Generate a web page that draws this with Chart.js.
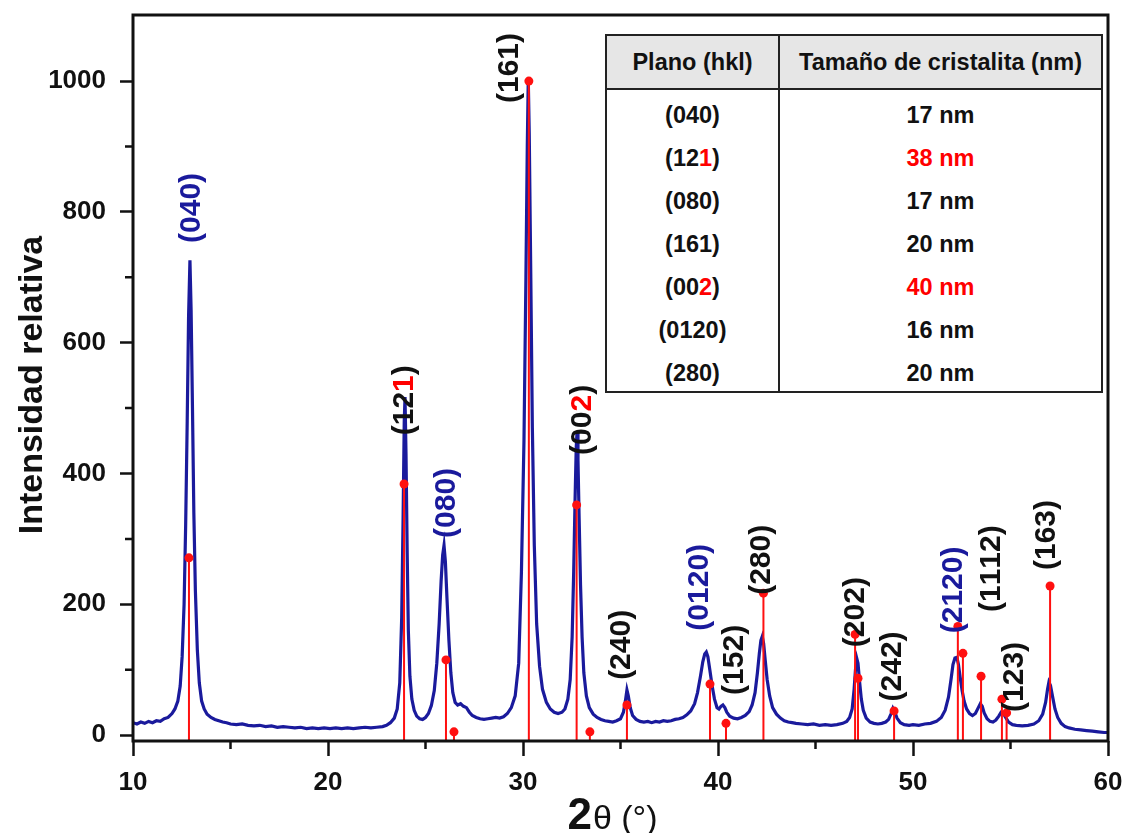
<!DOCTYPE html>
<html>
<head>
<meta charset="utf-8">
<script src="https://cdn.jsdelivr.net/npm/chart.js@4/dist/chart.umd.min.js"></script>
<style>
  body { margin: 0; background: #fff; }
  #wrap { position: relative; width: 1125px; height: 833px; }
  #crystal {
    position: absolute; left: 605px; top: 34px; width: 498px;
    border-collapse: collapse; border: 2px solid #222;
    font-family: "Liberation Sans", Arial, sans-serif; font-weight: bold; font-size: 23.5px;
    color: #111; background: #fff; text-align: center;
  }
  #crystal th { background: #e6e6e6; height: 52px; border: 2px solid #222; font-weight: bold; padding: 0; }
  #crystal td { height: 35px; padding: 8px 0 0 0; }
  #crystal td:first-child { border-right: 2px solid #222; width: 171px; }
  .red { color: #ff0000; }
</style>
</head>
<body>
<div id="wrap">
  <canvas id="xrdChart" width="1125" height="833"></canvas>
  <table id="crystal"></table>
</div>
<script>
// measured pattern (2theta, intensity)
const twoTheta = [
  10.0, 10.2, 10.4, 10.6, 10.8, 11.0, 11.2, 11.4, 11.6, 11.8, 12.0, 12.15, 12.3, 12.42, 12.52, 12.62, 12.7, 12.78, 12.85, 12.92,
  12.98, 13.05, 13.12, 13.2, 13.3, 13.4, 13.52, 13.65, 13.8, 14.0, 14.2, 14.4, 14.6, 14.8, 15.0, 15.3, 15.6, 15.9, 16.2, 16.5,
  16.8, 17.1, 17.4, 17.7, 18.0, 18.3, 18.6, 18.9, 19.2, 19.5, 19.8, 20.1, 20.4, 20.7, 21.0, 21.3, 21.6, 21.9, 22.2, 22.5,
  22.8, 23.0, 23.2, 23.4, 23.55, 23.68, 23.78, 23.85, 23.91, 23.95, 24.0, 24.06, 24.12, 24.2, 24.3, 24.42, 24.55, 24.7, 24.85, 25.0,
  25.15, 25.3, 25.45, 25.58, 25.7, 25.8, 25.88, 25.95, 26.02, 26.1, 26.2, 26.3, 26.4, 26.52, 26.65, 26.8, 26.95, 27.1, 27.25, 27.4,
  27.6, 27.8, 28.0, 28.2, 28.4, 28.6, 28.8, 29.0, 29.2, 29.4, 29.6, 29.78, 29.92, 30.05, 30.15, 30.22, 30.27, 30.32, 30.4, 30.48,
  30.58, 30.7, 30.85, 31.0, 31.2, 31.4, 31.6, 31.8, 32.0, 32.15, 32.3, 32.42, 32.52, 32.6, 32.67, 32.73, 32.77, 32.82, 32.88, 32.95,
  33.03, 33.12, 33.25, 33.4, 33.6, 33.8, 34.0, 34.2, 34.4, 34.6, 34.8, 35.0, 35.15, 35.25, 35.33, 35.4, 35.5, 35.62, 35.8, 36.0,
  36.2, 36.4, 36.6, 36.8, 37.0, 37.2, 37.4, 37.6, 37.8, 38.0, 38.2, 38.4, 38.6, 38.8, 38.95, 39.1, 39.22, 39.32, 39.4, 39.48,
  39.58, 39.7, 39.82, 39.95, 40.05, 40.15, 40.25, 40.35, 40.45, 40.6, 40.8, 41.0, 41.2, 41.4, 41.6, 41.75, 41.9, 42.02, 42.12, 42.2,
  42.27, 42.34, 42.42, 42.52, 42.65, 42.8, 43.0, 43.2, 43.4, 43.6, 43.8, 44.0, 44.3, 44.6, 44.9, 45.2, 45.5, 45.8, 46.1, 46.4,
  46.6, 46.75, 46.88, 46.98, 47.05, 47.12, 47.18, 47.25, 47.35, 47.45, 47.6, 47.8, 48.0, 48.2, 48.4, 48.6, 48.75, 48.88, 48.97, 49.06,
  49.18, 49.35, 49.55, 49.8, 50.0, 50.3, 50.6, 50.9, 51.2, 51.45, 51.65, 51.82, 51.95, 52.05, 52.15, 52.25, 52.33, 52.42, 52.52, 52.62,
  52.75, 52.9, 53.05, 53.2, 53.35, 53.45, 53.55, 53.65, 53.8, 53.95, 54.1, 54.25, 54.4, 54.52, 54.62, 54.75, 54.9, 55.1, 55.3, 55.6,
  55.9, 56.2, 56.45, 56.65, 56.8, 56.9, 56.97, 57.05, 57.15, 57.28, 57.42, 57.6, 57.8, 58.0, 58.3, 58.6, 58.9, 59.2, 59.5, 59.8, 60.0
];
const intensity = [
  19, 17, 20, 18, 21, 19, 22, 21, 25, 27, 33, 40, 52, 75, 120, 200, 320, 480, 640, 726,
  650, 500, 340, 220, 130, 80, 52, 40, 32, 27, 24, 22, 20, 19, 17, 16, 17, 15, 14, 15,
  13, 14, 12, 13, 12, 11, 12, 10, 11, 10, 11, 10, 11, 10, 11, 10, 11, 12, 11, 12,
  13, 15, 19, 26, 40, 80, 180, 330, 480, 517, 430, 280, 160, 90, 55, 38, 29, 25, 24, 27,
  33, 45, 68, 110, 170, 235, 275, 290, 265, 210, 145, 95, 65, 50, 46, 48, 44, 42, 35, 30,
  27, 25, 24, 25, 26, 27, 26, 28, 33, 42, 60, 110, 250, 450, 700, 900, 1003, 920, 700, 470,
  290, 170, 105, 70, 50, 40, 35, 33, 35, 40, 55, 85, 150, 250, 360, 440, 463, 420, 330, 230,
  150, 95, 60, 42, 32, 27, 24, 22, 21, 20, 22, 25, 35, 52, 69, 60, 42, 30, 24, 21,
  20, 21, 19, 21, 20, 22, 21, 22, 24, 25, 27, 31, 37, 48, 65, 90, 112, 124, 127, 120,
  100, 75, 55, 42, 40, 44, 46, 42, 35, 29, 26, 25, 27, 30, 36, 46, 65, 95, 125, 145,
  151, 140, 115, 85, 60, 42, 32, 26, 22, 20, 19, 18, 17, 16, 17, 15, 16, 15, 16, 18,
  21, 27, 40, 70, 100, 117, 110, 85, 55, 38, 26, 20, 18, 17, 18, 20, 24, 33, 41, 36,
  26, 19, 16, 15, 16, 15, 17, 18, 21, 27, 38, 58, 85, 108, 118, 119, 108, 88, 68, 52,
  40, 33, 30, 33, 42, 48, 44, 34, 25, 21, 20, 23, 29, 35, 34, 27, 20, 16, 15, 14,
  15, 17, 22, 32, 50, 70, 81, 76, 60, 40, 27, 18, 13, 11, 9, 8, 7, 6, 5, 4, 4
];

// reference pattern sticks
const refPos = [12.87, 23.9, 26.05, 26.46, 30.3, 32.75, 33.43, 35.33, 39.59, 40.41, 42.33, 47.03, 47.18, 49.03, 52.3, 52.56, 53.49, 54.56, 54.8, 57.03];
const refInt = [271, 384, 115, 5, 1000, 352, 5, 46, 78, 18, 217, 154, 87, 37, 166, 125, 90, 55, 34, 228];

// peak labels
const hklText = ['(040)', '(121)', '(080)', '(161)', '(002)', '(240)', '(0120)', '(152)', '(280)', '(202)', '(242)', '(2120)', '(1112)', '(123)', '(163)'];
const hklX = [13.03, 23.95, 26.1, 29.33, 33.08, 35.08, 39.08, 40.87, 42.26, 47.08, 48.97, 52.1, 54.05, 55.23, 56.87];
const hklY = [806, 512, 355, 1020, 482, 138, 226, 115, 268, 188, 105, 222, 252, 89, 306];
const hklBlue = ['(040)', '(080)', '(0120)', '(2120)'];
const hklRedDigit = { '(121)': 3, '(002)': 3 };

// axis ticks
const xTickValues = [10, 15, 20, 25, 30, 35, 40, 45, 50, 55, 60];
const yTickValues = [0, 100, 200, 300, 400, 500, 600, 700, 800, 900, 1000];

// crystallite size table
const tablePlanes = ['(040)', '(121)', '(080)', '(161)', '(002)', '(0120)', '(280)'];
const tableSizes = [17, 38, 17, 20, 40, 16, 20];
const tableRed = [false, true, false, false, true, false, false];

const yMin = -9, yMax = 1101;
const FONT = '"Liberation Sans", Arial, sans-serif';
const BLUE = '#1a1a9c';
const INK = '#111';

const pattern = twoTheta.map((t, i) => ({ x: t, y: intensity[i] }));
const sticks = [];
refPos.forEach((p, i) => {
    sticks.push({ x: p, y: yMin }, { x: p, y: refInt[i] }, { x: p, y: null });
});

function colourParts(text) {
    const base = hklBlue.includes(text) ? BLUE : INK;
    const red = hklRedDigit[text];
    return text.split('').map((ch, i) => ({ ch, color: i === red ? '#ff0000' : base }));
}

const isMajorX = v => v % 10 === 0;
const isMajorY = v => v % 200 === 0;

const extras = {
    id: 'extras',
    afterDatasetsDraw(chart) {
        const { ctx, chartArea: a, scales: { x, y } } = chart;
        ctx.save();
        // frame
        ctx.strokeStyle = INK;
        ctx.lineWidth = 3;
        ctx.strokeRect(a.left, a.top, a.right - a.left, a.bottom - a.top);

        // minor ticks (shorter)
        ctx.lineWidth = 2.5;
        ctx.beginPath();
        x.ticks.forEach(t => {
            if (isMajorX(t.value)) return;
            const px = x.getPixelForValue(t.value);
            ctx.moveTo(px, a.bottom); ctx.lineTo(px, a.bottom + 8);
        });
        y.ticks.forEach(t => {
            if (isMajorY(t.value)) return;
            const py = y.getPixelForValue(t.value);
            ctx.moveTo(a.left, py); ctx.lineTo(a.left - 8, py);
        });
        ctx.stroke();

        // hkl labels, rotated
        ctx.font = 'bold 30px ' + FONT;
        ctx.textAlign = 'left';
        ctx.textBaseline = 'middle';
        hklText.forEach((t, i) => {
            const parts = colourParts(t);
            const w = ctx.measureText(t).width;
            ctx.save();
            ctx.translate(x.getPixelForValue(hklX[i]), y.getPixelForValue(hklY[i]));
            ctx.rotate(-Math.PI / 2);
            let cx = -w / 2;
            parts.forEach(p => {
                ctx.fillStyle = p.color;
                ctx.fillText(p.ch, cx, 0);
                cx += ctx.measureText(p.ch).width;
            });
            ctx.restore();
        });

        // axis titles
        ctx.fillStyle = INK;
        ctx.save();
        ctx.translate(33, 385);
        ctx.rotate(-Math.PI / 2);
        ctx.textAlign = 'center';
        ctx.font = 'bold 34px ' + FONT;
        ctx.fillText('Intensidad relativa', 0, 0);
        ctx.restore();

        ctx.textAlign = 'left';
        ctx.textBaseline = 'alphabetic';
        ctx.font = 'bold 44px ' + FONT;
        const w1 = ctx.measureText('2').width;
        ctx.font = '34px ' + FONT;
        const w2 = ctx.measureText('θ (°)').width;
        const sx = 612 - (w1 + w2) / 2;
        ctx.font = 'bold 44px ' + FONT;
        ctx.fillText('2', sx, 829);
        ctx.font = '34px ' + FONT;
        ctx.fillText('θ (°)', sx + w1 + 1, 829);
        ctx.restore();
    }
};

new Chart(document.getElementById('xrdChart'), {
    type: 'line',
    data: {
        datasets: [{
            label: 'Referencia',
            data: sticks,
            borderColor: '#ff1010',
            borderWidth: 2,
            pointRadius: ctx => (ctx.index % 3 === 1 ? 4.5 : 0),
            pointBackgroundColor: '#ff1010',
            pointBorderWidth: 0,
            spanGaps: false,
            order: 0
        }, {
            label: 'Muestra',
            data: pattern,
            borderColor: BLUE,
            borderWidth: 3.2,
            pointRadius: 0,
            tension: 0,
            order: 1
        }]
    },
    options: {
        responsive: false,
        animation: false,
        layout: { padding: { left: 0, top: 15, right: 17, bottom: 0 } },
        plugins: { legend: { display: false }, tooltip: { enabled: false } },
        scales: {
            x: {
                type: 'linear', min: 10, max: 60,
                afterBuildTicks: s => { s.ticks = xTickValues.map(v => ({ value: v })); },
                afterFit: s => { s.height = 92; s.paddingLeft = 0; s.paddingRight = 0; },
                border: { display: false },
                grid: {
                    drawOnChartArea: false, tickLength: 15, tickWidth: 2.5,
                    tickColor: c => (c.tick && isMajorX(c.tick.value) ? INK : 'rgba(0,0,0,0)')
                },
                ticks: {
                    autoSkip: false, maxRotation: 0, padding: 11,
                    color: INK, font: { family: FONT, size: 26, weight: 'bold' },
                    callback: v => (isMajorX(v) ? String(v) : '')
                }
            },
            y: {
                type: 'linear', min: yMin, max: yMax,
                afterBuildTicks: s => { s.ticks = yTickValues.map(v => ({ value: v })); },
                afterFit: s => { s.width = 133; s.paddingTop = 0; s.paddingBottom = 0; },
                border: { display: false },
                grid: {
                    drawOnChartArea: false, tickLength: 13, tickWidth: 2.5,
                    tickColor: c => (c.tick && isMajorY(c.tick.value) ? INK : 'rgba(0,0,0,0)')
                },
                ticks: {
                    autoSkip: false, padding: 14,
                    color: INK, font: { family: FONT, size: 26, weight: 'bold' },
                    callback: v => (isMajorY(v) ? String(v) : '')
                }
            }
        }
    },
    plugins: [extras]
});

// table
const tbl = document.getElementById('crystal');
let html = '<tr><th>Plano (hkl)</th><th>Tamaño de cristalita (nm)</th></tr>';
tablePlanes.forEach((p, i) => {
    const red = hklRedDigit[p];
    const plane = red === undefined ? p : p.slice(0, red) + '<span class="red">' + p[red] + '</span>' + p.slice(red + 1);
    const size = tableSizes[i] + ' nm';
    html += '<tr><td>' + plane + '</td><td' + (tableRed[i] ? ' class="red"' : '') + '>' + size + '</td></tr>';
});
tbl.innerHTML = html;
</script>
</body>
</html>
